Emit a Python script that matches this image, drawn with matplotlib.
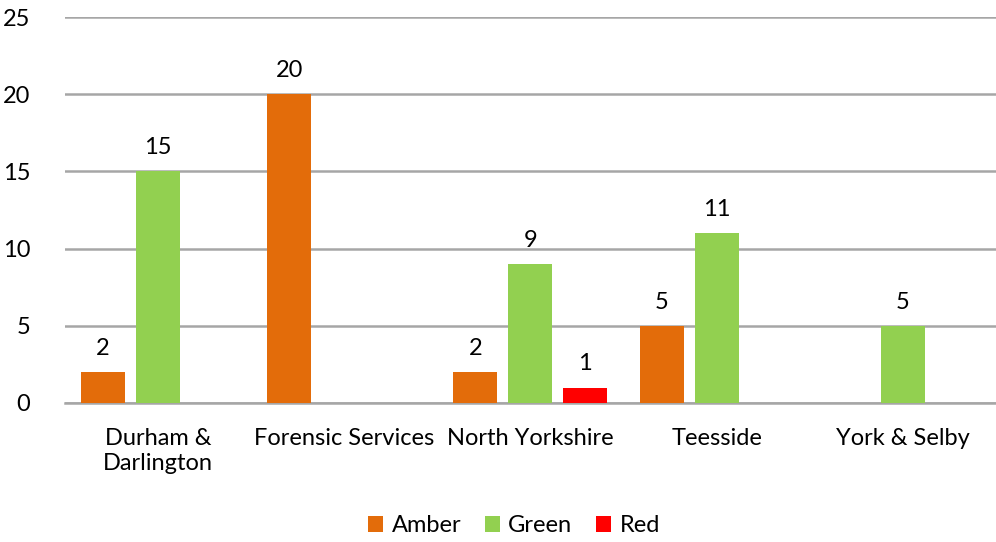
import numpy as np
import matplotlib.pyplot as plt

categories = ['Durham &\nDarlington', 'Forensic Services', 'North Yorkshire', 'Teesside', 'York & Selby']
amber = [2, 20, 2, 5, 0]
green = [15, 0, 9, 11, 5]
red = [0, 0, 1, 0, 0]

series = [('Amber', amber, '#E36C0A'), ('Green', green, '#92D050'), ('Red', red, '#FF0000')]

plt.rcParams['font.family'] = ['Lato', 'DejaVu Sans']

fig = plt.figure(figsize=(9.96, 5.42), dpi=100)
ax = fig.add_axes([0.065, 0.2565, 0.935, 0.712])

x = np.arange(len(categories))
width = 0.236
step = 0.295

for i, (name, vals, col) in enumerate(series):
    pos = x + (i - 1) * step
    bars = ax.bar(pos, vals, width, color=col, label=name, zorder=3)
    for b, v in zip(bars, vals):
        if v > 0:
            ax.text(b.get_x() + b.get_width() / 2, v + 0.85, str(v),
                    ha='center', va='bottom', fontsize=17, color='#000000')

ax.set_xlim(-0.5, len(categories) - 0.5)
ax.set_ylim(0, 25)
ax.set_yticks(range(0, 26, 5))
ax.set_xticks(x)
ax.set_xticklabels(categories, fontsize=17, linespacing=1.25)
ax.tick_params(axis='y', labelsize=17, length=0, pad=25)
ax.tick_params(axis='x', length=0, pad=18)
ax.grid(axis='y', color='#A6A6A6', linewidth=1.8, zorder=0)
for s in ['top', 'right', 'left']:
    ax.spines[s].set_visible(False)
ax.spines['bottom'].set_color('#A6A6A6')
ax.spines['bottom'].set_linewidth(1.8)

fig.legend(loc='center', bbox_to_anchor=(0.516, 0.03), ncol=3, frameon=False,
           fontsize=17, handlelength=0.65, handleheight=0.65, handletextpad=0.35,
           columnspacing=1.0)

fig.savefig('out.png', dpi=100)
